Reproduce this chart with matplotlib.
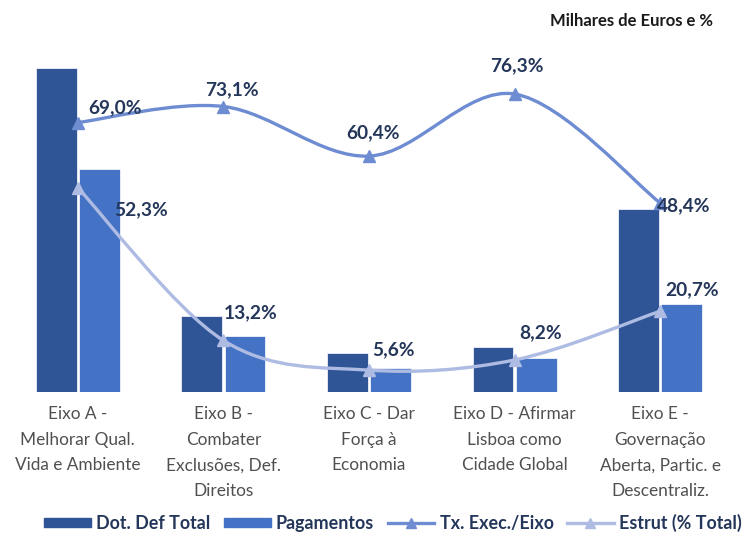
import numpy as np
import matplotlib
matplotlib.use("Agg")
import matplotlib.pyplot as plt
from matplotlib.path import Path
from matplotlib.patches import PathPatch, Patch
from matplotlib.lines import Line2D

categorias = ["Eixo A -\nMelhorar Qual.\nVida e Ambiente",
              "Eixo B -\nCombater\nExclusões, Def.\nDireitos",
              "Eixo C - Dar\nForça à\nEconomia",
              "Eixo D - Afirmar\nLisboa como\nCidade Global",
              "Eixo E -\nGovernação\nAberta, Partic. e\nDescentraliz."]
dot_def_total = [324, 76, 39, 45, 183]
pagamentos = [223, 56, 24, 34, 88]
tx_exec = [69.0, 73.1, 60.4, 76.3, 48.4]
estrut = [52.3, 13.2, 5.6, 8.2, 20.7]

c_dot = "#2F5597"
c_pag = "#4472C4"
c_tx = "#6E8CD2"
c_est = "#AEBBE3"
c_lab = "#243659"
font = "Lato"


def smooth_path(xs, ys):
    # Excel-like smoothed line as cubic Bezier segments
    pts = np.column_stack([xs, ys]).astype(float)
    n = len(pts)
    verts = [pts[0]]
    codes = [Path.MOVETO]
    for i in range(n - 1):
        p0 = pts[max(i - 1, 0)]
        p1 = pts[i]
        p2 = pts[i + 1]
        p3 = pts[min(i + 2, n - 1)]
        verts += [p1 + (p2 - p0) / 6, p2 - (p3 - p1) / 6, p2]
        codes += [Path.CURVE4] * 3
    return Path(verts, codes)


fig = plt.figure(figsize=(7.53, 5.34), dpi=100)
ax = fig.add_axes([5 / 753, 142 / 534, 728 / 753, 351.5 / 534])
x = np.arange(len(categorias))
w = 0.28
ax.bar(x - 0.148, dot_def_total, w, color=c_dot, edgecolor="white", linewidth=0.5)
ax.bar(x + 0.148, pagamentos, w, color=c_pag, edgecolor="white", linewidth=0.5)
ax.set_xlim(-0.5, len(categorias) - 0.5)
ax.set_ylim(0, 351.5)
ax.set_xticks(x)
ax.set_xticklabels(categorias, fontsize=12.4, color="#505050", family=font, linespacing=1.75,
                   va="top")
ax.tick_params(axis="x", length=0, pad=10)
ax.set_yticks([])
for s in ax.spines.values():
    s.set_visible(False)

ax2 = ax.twinx()
ax2.set_ylim(0, 90)
ax2.set_yticks([])
for s in ax2.spines.values():
    s.set_visible(False)

for ys, col in [(tx_exec, c_tx), (estrut, c_est)]:
    ax2.add_patch(PathPatch(smooth_path(x, ys), facecolor="none", edgecolor=col, lw=2.4))
    ax2.plot(x, ys, ls="none", marker="^", ms=8, color=col)

tx_off = [(37, 15), (9, 17), (4, 23), (2, 28), (24, -3)]
est_off = [(63, -22), (27, 28), (24, 20), (26, 27), (32, 21)]
for xi, v, o in zip(x, tx_exec, tx_off):
    ax2.annotate(f"{v:.1f}%".replace(".", ","), (xi, v), xytext=o, textcoords="offset pixels",
                 ha="center", va="center", fontsize=13.8, fontweight="bold", color=c_lab, family=font)
for xi, v, o in zip(x, estrut, est_off):
    ax2.annotate(f"{v:.1f}%".replace(".", ","), (xi, v), xytext=o, textcoords="offset pixels",
                 ha="center", va="center", fontsize=13.8, fontweight="bold", color=c_lab, family=font)

fig.text(631 / 753, 1 - 21 / 534, "Milhares de Euros e %", ha="center", va="center",
         fontsize=12, fontweight="bold", color="#1a1a1a", family=font)

handles = [Patch(color=c_dot), Patch(color=c_pag),
           Line2D([], [], color=c_tx, lw=2.4, marker="^", ms=7),
           Line2D([], [], color=c_est, lw=2.4, marker="^", ms=7)]
labels = ["Dot. Def Total", "Pagamentos", "Tx. Exec./Eixo", "Estrut (% Total)"]
fig.legend(handles, labels, loc="center", bbox_to_anchor=(0.522, 1 - 523 / 534), ncol=4,
           frameon=False, handlelength=2.6, handleheight=0.45, handletextpad=0.3,
           columnspacing=0.75, prop={"family": font, "weight": "bold", "size": 12.9},
           labelcolor=c_lab)

fig.savefig("out.png", dpi=100)
